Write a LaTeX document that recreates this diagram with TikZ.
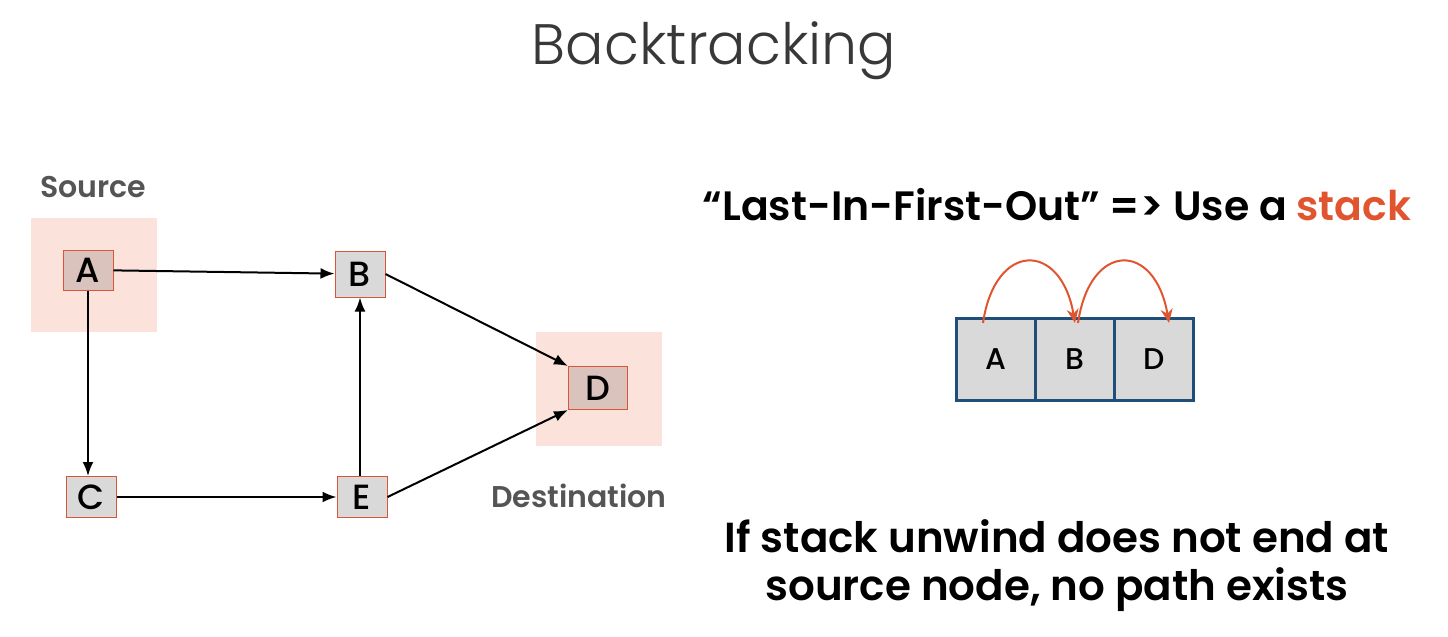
\documentclass[tikz,border=0pt]{standalone}
\usepackage{fontspec}
\setmainfont{Poppins}
\newfontfamily\lightfont{Poppins Light}
\newfontfamily\medfont{Poppins Medium}
\newfontfamily\semifont{Poppins SemiBold}
\usetikzlibrary{positioning,arrows.meta}
\definecolor{hilite}{HTML}{FBE3DC}
\definecolor{edgered}{HTML}{D9553A}
\definecolor{srcfill}{HTML}{D9C3BC}
\definecolor{boxgray}{HTML}{D9D9D9}
\definecolor{navy}{HTML}{1F4E79}
\definecolor{stackred}{HTML}{E0552F}
\definecolor{labelgray}{HTML}{555555}
\newcommand{\fs}[1]{\fontsize{#1}{#1}\selectfont}
\tikzstyle{vertex}=[draw=edgered,fill=boxgray,line width=1pt,minimum width=50pt,minimum height=40pt,inner sep=0pt,font=\medfont\fs{35}]
\tikzstyle{shade}=[fill=hilite,minimum width=126pt,minimum height=114pt,inner sep=0pt]
\tikzstyle{cell}=[draw=navy,fill=boxgray,line width=3pt,minimum width=79pt,minimum height=82pt,inner sep=0pt,outer sep=0pt,font=\medfont\fs{30}]
\tikzstyle{edge}=[-{Latex[length=14pt,width=11pt]},line width=2pt]
\tikzstyle{jump}=[-{Stealth[length=14pt,width=12pt]},line width=2pt,draw=stackred]
\newcommand{\newVertex}[4]{\node[vertex,#3](#1) at #4 {#2};}
\newcommand{\newEdge}[2]{\draw[edge] (#1) -- (#2);}

\begin{document}
\begin{tikzpicture}[x=1pt,y=-1pt]
  \useasboundingbox (0,0) rectangle (1448,637);
  \node[anchor=base,text=black!78,font=\lightfont\fs{57}] (title) at (714,64) {Backtracking};

  % graph
  \node[shade] (srcbg) at (94,275) {};
  \node[shade] (dstbg) at (599,389) {};
  \node[text=labelgray,font=\semifont\fs{30}] (src) at (93,187) {Source};
  \node[text=labelgray,font=\semifont\fs{30}] (dst) at (579,496) {Destination};
  \newVertex{A}{A}{fill=srcfill}{(88,270)}
  \newVertex{B}{B}{minimum height=46pt}{(360,274)}
  \newVertex{C}{C}{minimum height=41pt}{(91,497)}
  \newVertex{E}{E}{minimum height=41pt}{(362,497)}
  \newVertex{D}{D}{fill=srcfill,minimum width=59pt,minimum height=43pt}{(598,388)}
  \newEdge{A}{B}
  \newEdge{A.south}{A.south |- C.north}
  \newEdge{C}{E}
  \newEdge{E.north -| B.south}{B.south}
  \newEdge{B.east}{D.north west}
  \newEdge{E.east}{D.south west}

  % stack
  \node[font=\semifont\fs{41}] (lifo) at (1057,205) {“Last-In-First-Out” => Use a \textcolor{stackred}{stack}};
  \node[cell] (c1) at (996,359) {A};
  \node[cell,right=0pt of c1] (c2) {B};
  \node[cell,right=0pt of c2] (c3) {D};
  \draw[jump] ([xshift=-13pt,yshift=-5pt]c1.north) .. controls +(12,-82) and +(-14,-82) .. ([yshift=-5pt]c2.north);
  \draw[jump] ([xshift=3pt,yshift=-5pt]c2.north) .. controls +(12,-82) and +(-14,-82) .. ([xshift=15pt,yshift=-5pt]c3.north);

  \node[font=\semifont\fs{42},align=center] (note) at (1057,566) {If stack unwind does not end at\\[6pt]source node, no path exists};
\end{tikzpicture}
\end{document}
